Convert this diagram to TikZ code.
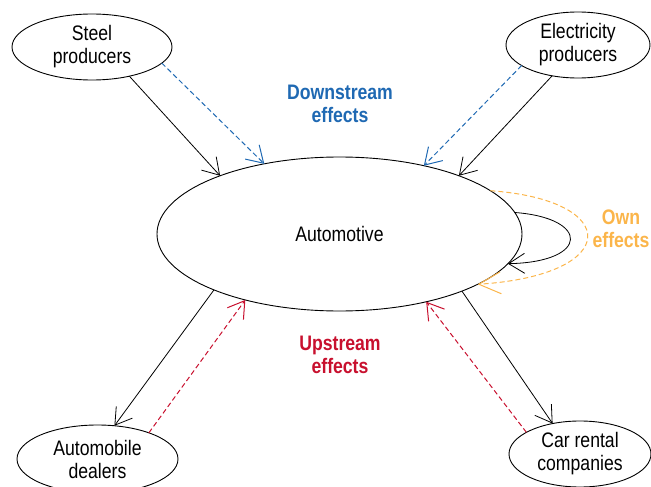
\documentclass[tikz,border=0pt]{standalone}
\usepackage{fontspec}
\setmainfont{Liberation Sans}[FakeStretch=0.84]
\usetikzlibrary{arrows.meta,shapes.geometric}
\usepackage{xcolor}
\definecolor{dsblue}{HTML}{1F69B3}
\definecolor{usred}{HTML}{C8102E}
\definecolor{ownorange}{HTML}{FBB54A}
\tikzset{
  sector/.style={ellipse,draw=black,line width=0.9pt,inner sep=0pt,outer sep=0pt,
    align=center,font=\fontsize{21}{23}\selectfont},
  flow/.style={-{Straight Barb[length=16pt,width=20pt]},line width=0.8pt},
  spill/.style={flow,line width=1pt,dash pattern=on 5pt off 3pt},
  lbl/.style={align=center,font=\fontsize{21}{23}\selectfont\bfseries}
}
\begin{document}
\begin{tikzpicture}[x=1pt,y=-1pt]
  \useasboundingbox (0,0) rectangle (651,487);
  \node[sector,minimum width=365pt,minimum height=154pt] (auto) at (339.5,234) {Automotive};
  \node[sector,minimum width=160pt,minimum height=66pt] (steel) at (92,47) {Steel\\producers};
  \node[sector,minimum width=144pt,minimum height=66pt] (elec) at (578,45) {Electricity\\producers};
  \node[sector,minimum width=161pt,minimum height=68pt] (dealer) at (97.5,459) {Automobile\\dealers};
  \node[sector,minimum width=142pt,minimum height=66pt] (rental) at (580,454) {Car rental\\companies};

  \node[lbl,text=dsblue] (down) at (340,103.5) {Downstream\\effects};
  \node[lbl,text=usred] (up) at (340,354.5) {Upstream\\effects};
  \node[lbl,text=ownorange] (own) at (621,228.5) {Own\\effects};

  % downstream
  \draw[flow] (steel.-38) -- (auto.154);
  \draw[spill,dsblue] (steel.-13.5) -- (auto.137.5);
  \draw[spill,dsblue] (elec.200.6) -- (auto.39);
  \draw[flow] (elec.230) -- (auto.26.5);
  % upstream
  \draw[flow] (auto.204.6) -- (dealer.63.4);
  \draw[spill,usred] (dealer.27) -- (auto.215.5);
  \draw[flow] (auto.-25.9) -- (rental.132);
  \draw[spill,usred] (rental.158.9) -- (auto.-38.3);
  % own
  \draw[flow] (auto.7.9) .. controls (590,218) and (590,262) .. (auto.-10.1);
  \draw[spill,ownorange,-{Straight Barb[length=22pt,width=22pt]}] (auto.16) .. controls (622,200) and (622,275) .. (auto.-20.3);
\end{tikzpicture}
\end{document}
